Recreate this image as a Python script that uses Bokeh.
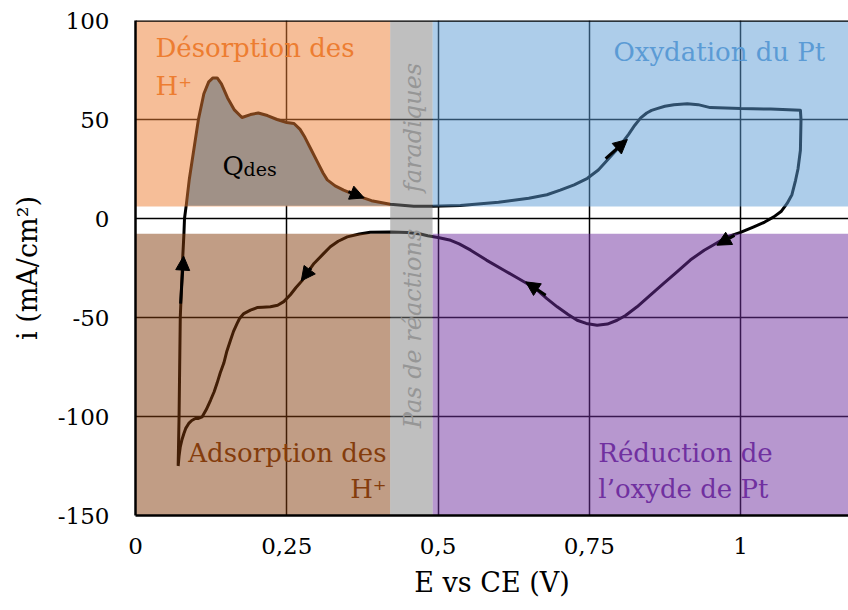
from bokeh.plotting import figure
from bokeh.models import (Range1d, FixedTicker, Arrow, NormalHead, Label, Span,
                          ColumnDataSource)
from bokeh.embed import file_html
from bokeh.resources import INLINE

# ---------------- data ----------------
# anodic scan (from the H adsorption minimum up to the vertex)
E_anodic = [0.0705, 0.072, 0.073, 0.074, 0.076, 0.078, 0.080, 0.081, 0.084, 0.089,
            0.096, 0.104, 0.113, 0.121, 0.128, 0.135, 0.142, 0.152, 0.163, 0.176,
            0.19, 0.203, 0.218, 0.234, 0.25, 0.262, 0.272, 0.28, 0.29, 0.300,
            0.31, 0.317, 0.33, 0.344, 0.36, 0.372, 0.39, 0.421, 0.46, 0.491,
            0.537, 0.6, 0.65, 0.68, 0.702, 0.725, 0.747, 0.765, 0.78, 0.793, 0.804,
            0.815, 0.825, 0.835, 0.845, 0.853, 0.862,
            0.875, 0.89, 0.912, 0.93, 0.950, 0.975, 1.0, 1.05, 1.099]
i_anodic = [-125, -100, -75, -50, -35, -20, -8, 0, 7, 20,
            34, 50, 63, 69, 71, 71, 68, 61, 55, 51,
            52.5, 53.3, 52, 50, 48.5, 48, 45, 41, 35, 29,
            23, 19.5, 16.5, 14.3, 12.3, 10.9, 9, 7.2, 6.2, 6.2,
            6.6, 8.2, 10.2, 12.0, 14.3, 17.0, 20.3, 24.5, 29.5, 34.0, 38.0,
            42.5, 47.0, 50.8, 53.3, 54.6, 55.5,
            56.7, 57.5, 58, 57.5, 56, 55.8, 55.5, 55.3, 54.7]
# cathodic scan (from the vertex back to the minimum)
E_cathodic = [1.1, 1.099, 1.095, 1.091, 1.085, 1.077, 1.067, 1.055, 1.04, 1.022,
              1.0, 0.978, 0.96, 0.94, 0.917, 0.895, 0.873, 0.85, 0.829, 0.81,
              0.796, 0.78, 0.763, 0.745, 0.730, 0.715, 0.697, 0.68, 0.664, 0.647,
              0.63, 0.609, 0.58, 0.554, 0.535, 0.521, 0.5, 0.483, 0.471, 0.45,
              0.421, 0.388, 0.37, 0.35, 0.335, 0.322, 0.31, 0.295, 0.285, 0.275,
              0.265, 0.256, 0.245, 0.235, 0.223, 0.21, 0.201, 0.19, 0.179, 0.172,
              0.168, 0.162, 0.157, 0.151, 0.146, 0.140, 0.135, 0.130, 0.124, 0.117,
              0.110, 0.104, 0.099, 0.093, 0.088, 0.083, 0.080, 0.077, 0.074, 0.072,
              0.0705]
i_cathodic = [50, 34.5, 25, 19.3, 12, 7.6, 3.5, 0.8, -1.8, -4.2,
              -7, -9.3, -12.5, -16, -21, -27, -32.8, -39, -44.6, -49,
              -51.4, -53.3, -53.9, -53, -51.4, -48.5, -44.6, -40.5, -36.2, -32.8,
              -29.8, -26.1, -21, -16, -12.8, -11, -9.6, -8.7, -7.8, -7.1,
              -6.8, -6.9, -7.8, -9.3, -11.5, -14.3, -18, -22.7, -27, -31.5,
              -35, -38.5, -42, -43.8, -44.6, -44.8, -45, -46.3, -48, -50.5,
              -53, -57, -61.5, -67, -73, -78, -83, -87.5, -91.8, -96.5,
              -100.2, -101, -101, -102, -103.5, -106, -108.6, -111.5, -115.3, -120,
              -125]

# shaded regions of the voltammogram
region_names = ["Désorption", "Oxydation", "Adsorption", "Réduction", "Non faradique"]
region_x0 = [0.0, 0.491, 0.0, 0.491, 0.421]
region_x1 = [0.421, 1.2, 0.421, 1.2, 0.491]
region_y0 = [6.0, 6.0, -150.0, -150.0, -150.0]
region_y1 = [100.0, 100.0, -7.7, -7.7, 100.0]

# Q_des integration limits
qdes_E_min = 0.084
qdes_E_max = 0.421
qdes_base = 6.5

x_ticks = [0, 0.25, 0.5, 0.75, 1]
x_tick_labels = ["0", "0,25", "0,5", "0,75", "1"]
y_ticks = [-150, -100, -50, 0, 50, 100]
y_tick_labels = ["-150", "-100", "-50", "0", "50", "100"]

# ---------------- styles ----------------
region_colors = ["#ED7D31", "#5B9BD5", "#843C0C", "#7030A0", "#808080"]
SERIF = "DejaVu Serif"

p = figure(width=848, height=610, x_range=Range1d(0, 1.1785), y_range=Range1d(-150, 100),
           output_backend="svg", toolbar_location=None,
           min_border_left=135, min_border_right=0, min_border_top=20, min_border_bottom=95)
p.background_fill_color = "white"
p.border_fill_color = "white"
p.outline_line_color = None

# axes
p.xaxis.ticker = FixedTicker(ticks=x_ticks)
p.yaxis.ticker = FixedTicker(ticks=y_ticks)
p.xaxis.major_label_overrides = {t: l for t, l in zip(x_ticks, x_tick_labels)}
p.yaxis.major_label_overrides = {t: l for t, l in zip(y_ticks, y_tick_labels)}
for ax in (p.xaxis, p.yaxis):
    ax.major_tick_out = 0
    ax.major_tick_in = 0
    ax.minor_tick_out = 0
    ax.minor_tick_in = 0
    ax.axis_line_color = "black"
    ax.axis_line_width = 2.5
    ax.major_label_text_font = SERIF
    ax.major_label_text_font_size = "23px"
    ax.major_label_text_color = "black"
    ax.axis_label_text_font = SERIF
    ax.axis_label_text_font_size = "27px"
    ax.axis_label_text_font_style = "normal"
    ax.axis_label_text_color = "black"
p.xaxis.axis_label = "E vs CE (V)"
p.yaxis.axis_label = "i (mA/cm²)"
p.xaxis.major_label_standoff = 22
p.xaxis.axis_label_standoff = 10
p.yaxis.major_label_standoff = 26
p.yaxis.axis_label_standoff = 12

for g in (p.xgrid, p.ygrid):
    g.grid_line_color = "black"
    g.grid_line_width = 1.5
    g.grid_line_alpha = 1.0

# Q_des fill (drawn beneath the translucent overlay; colour chosen so the composite matches)
fill_E = [e for e in E_anodic if qdes_E_min <= e <= qdes_E_max]
fill_i = [i for e, i in zip(E_anodic, i_anodic) if qdes_E_min <= e <= qdes_E_max]
p.varea(x=fill_E, y1=[qdes_base] * len(fill_E), y2=fill_i, fill_color="#53A5DD")

# voltammogram curve
p.line(E_anodic + E_cathodic, i_anodic + i_cathodic, line_color="black", line_width=3,
       line_join="round")

# translucent regions on top
src = ColumnDataSource(dict(left=region_x0, right=region_x1, bottom=region_y0, top=region_y1,
                            color=region_colors, name=region_names))
p.quad(left="left", right="right", bottom="bottom", top="top", fill_color="color",
       fill_alpha=0.5, line_color=None, source=src)

# top border
p.add_layout(Span(location=100, dimension="width", line_color="black", line_width=2.5))

# direction arrows
arrows = [((0.0745, -43), (0.0795, -19)),
          ((0.352, 13.6), (0.378, 10.4)),
          ((0.777, 30.3), (0.813, 39.9)),
          ((0.99, -8.5), (0.961, -13.5)),
          ((0.678, -38.7), (0.645, -32.0)),
          ((0.290, -25.0), (0.274, -31.5))]
for (xs, ys), (xe, ye) in arrows:
    p.add_layout(Arrow(end=NormalHead(size=14, fill_color="black", line_color="black"),
                       x_start=xs, y_start=ys, x_end=xe, y_end=ye,
                       line_color="black", line_width=3))

def lab(x, y, text, color, size="26px", align="left", angle=0, style="normal"):
    p.add_layout(Label(x=x, y=y, text=text, text_color=color, text_font=SERIF,
                       text_font_size=size, text_align=align, text_baseline="alphabetic",
                       angle=angle, text_font_style=style))

lab(0.033, 86.0, "Désorption des", "#ED7D31")
lab(0.033, 67.0, "H⁺", "#ED7D31")
lab(0.790, 84.0, "Oxydation du Pt", "#5B9BD5")
lab(0.415, -118.6, "Adsorption des", "#843C0C", align="right")
lab(0.415, -136.8, "H⁺", "#843C0C", align="right")
lab(0.765, -118.6, "Réduction de", "#7030A0")
lab(0.765, -136.8, "l’oxyde de Pt", "#7030A0")
lab(0.1438, 26.4, "Q", "black")
lab(0.1785, 24.9, "des", "black", size="19px")
lab(0.458, -105.9, "Pas de réactions", "#969696", size="24px", angle=1.5707963, style="italic")
lab(0.458, 13.3, "faradiques", "#969696", size="24px", angle=1.5707963, style="italic")

open("out.html", "w").write(file_html(p, INLINE))
